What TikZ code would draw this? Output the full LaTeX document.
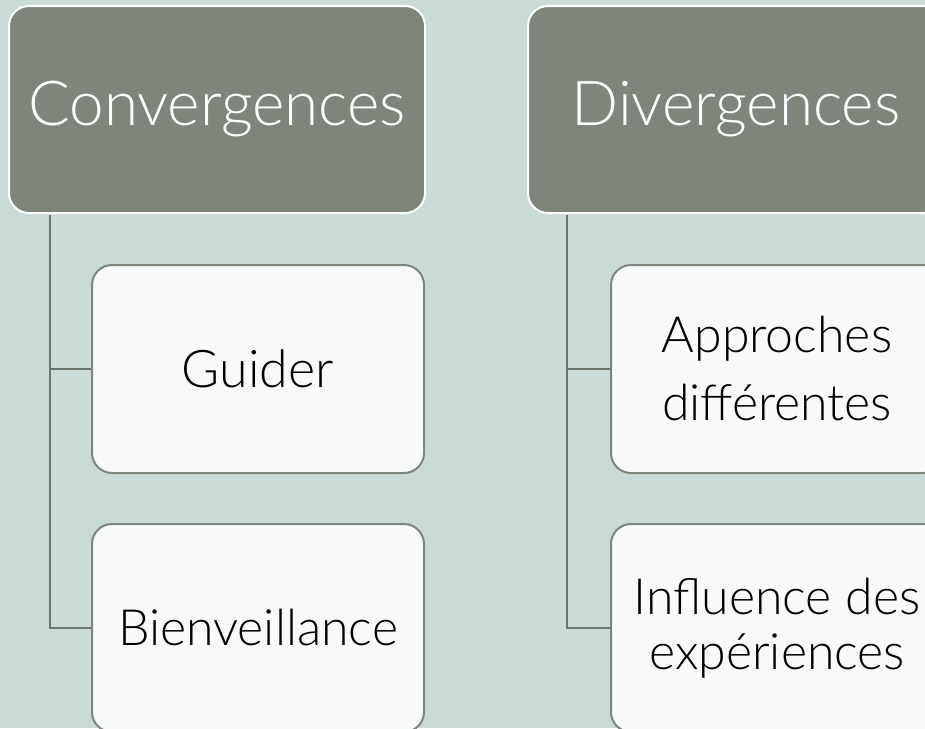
\documentclass[tikz,border=0pt]{standalone}
\usepackage{fontspec}
\setmainfont{Lato Light}
\definecolor{fond}{RGB}{202,218,215}
\definecolor{tete}{RGB}{126,133,122}
\definecolor{carte}{RGB}{248,250,250}
\definecolor{trait}{RGB}{108,116,106}

\begin{document}
\begin{tikzpicture}[x=1pt, y=-1pt,
    head/.style={draw=white, line width=2pt, fill=tete, rounded corners=20pt,
      minimum width=416pt, minimum height=207pt, text=white,
      font=\fontsize{62}{64}\selectfont},
    item/.style={draw=tete, line width=2pt, fill=carte, rounded corners=20pt,
      minimum width=332pt, minimum height=208pt, align=center},
    link/.style={draw=trait, line width=2.2pt, shorten <=1pt}]
    \clip (0,0) rectangle (925,728);
    \fill[fond] (0,0) rectangle (925,728);

    % Convergences
    \node[head] (conv) at (217,109.5) {Convergences};
    \node[item, font=\fontsize{52}{55}\selectfont] (guider) at (258,369) {Guider};
    \node[item, font=\fontsize{50}{55}\selectfont] (bienv) at (258,628) {Bienveillance};

    % Divergences
    \node[head] (div) at (736,109.5) {Divergences};
    \node[item, font=\fontsize{50}{68}\selectfont] (appr) at (777,369) {Approches\\différentes};
    \node[item, font=\fontsize{50}{55}\selectfont] (infl) at (777,628) {Influence des\\expériences};

    % links
    \draw[link] ([xshift=42pt]conv.south west) |- (guider.west);
    \draw[link] ([xshift=42pt]conv.south west) |- (bienv.west);
    \draw[link] ([xshift=40pt]div.south west) |- (appr.west);
    \draw[link] ([xshift=40pt]div.south west) |- (infl.west);
\end{tikzpicture}
\end{document}
